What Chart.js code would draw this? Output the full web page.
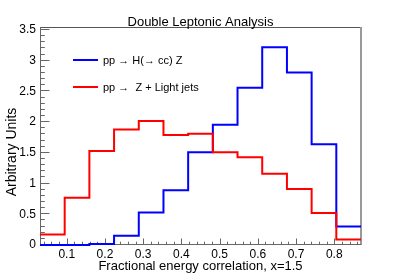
<!DOCTYPE html>
<html>
<head>
<meta charset="utf-8">
<script src="https://cdn.jsdelivr.net/npm/chart.js@4"></script>
<style>
    html, body { margin: 0; padding: 0; background: #fff; }
    #wrap { width: 401px; height: 273px; }
</style>
</head>
<body>
<div id="wrap"><canvas id="chart1"></canvas></div>
<script>
const binEdges = [0.030, 0.0946, 0.1592, 0.2238, 0.2885, 0.3531, 0.4177, 0.4823, 0.5469, 0.6115, 0.6762, 0.7408, 0.8054, 0.870]
const higgsValues = [0, 0, 0.015, 0.15, 0.53, 0.89, 1.51, 1.96, 2.56, 3.22, 2.81, 1.64, 0.30]
const lightValues = [0.17, 0.77, 1.53, 1.88, 2.02, 1.79, 1.81, 1.51, 1.43, 1.16, 0.91, 0.52, 0.09]
const seriesLabels = ['pp \u2192 H(\u2192 cc) Z', 'pp \u2192  Z + Light jets']
const xTicks = [0.1, 0.2, 0.3, 0.4, 0.5, 0.6, 0.7, 0.8]
const yTicks = [0, 0.5, 1, 1.5, 2, 2.5, 3, 3.5]

const FONT = '"Liberation Sans", Arial, sans-serif'
const AXIS = '#666'


// histogram outline: one point per left bin edge, plus the last right edge
function histPoints(values) {
    let pts = values.map((v, i) => ({ x: binEdges[i], y: v }))
    pts.push({ x: binEdges[binEdges.length - 1], y: values[values.length - 1] })
    return pts
}


// ROOT-like frame: inward major/minor ticks, grey frame
const framePlugin = {
    id: 'frame',
    beforeDatasetsDraw(chart) {
        const { ctx, chartArea: a, scales: { x, y } } = chart
        ctx.save()
        ctx.lineWidth = 1
        ctx.strokeStyle = '#555'
        ctx.beginPath()
        ctx.moveTo(a.left, a.top + 0.5)
        ctx.lineTo(a.right, a.top + 0.5)
        ctx.stroke()

        ctx.strokeStyle = '#999'
        ctx.lineWidth = 2
        ctx.beginPath()
        ctx.moveTo(a.right, a.top)
        ctx.lineTo(a.right, a.bottom)
        ctx.stroke()

        ctx.strokeStyle = AXIS
        ctx.lineWidth = 1
        ctx.beginPath()
        ctx.moveTo(a.left + 0.5, a.top)
        ctx.lineTo(a.left + 0.5, a.bottom)
        ctx.moveTo(a.left, a.bottom - 0.5)
        ctx.lineTo(a.right, a.bottom - 0.5)

        // y ticks: major every 0.5, minor every 0.1
        const yStep = (yTicks[1] - yTicks[0]) / 5
        for (let i = 0; i <= Math.round(yTicks[yTicks.length - 1] / yStep); i++) {
            const py = Math.round(y.getPixelForValue(i * yStep)) - 0.5
            const len = i % 5 === 0 ? 9.5 : 4.8
            ctx.moveTo(a.left, py)
            ctx.lineTo(a.left + len, py)
        }

        // x ticks: major every 0.1, minor every 0.02
        const xStep = (xTicks[1] - xTicks[0]) / 5
        for (let i = 1; i * xStep <= x.max + 1e-9; i++) {
            const v = i * xStep
            if (v < x.min) continue
            const px = Math.round(x.getPixelForValue(v)) + 0.5
            const len = i % 5 === 0 ? 6.5 : 3.3
            ctx.moveTo(px, a.bottom)
            ctx.lineTo(px, a.bottom - len)
        }
        ctx.stroke()
        ctx.restore()
    },
    afterDraw(chart) {
        const { ctx, chartArea: a } = chart
        ctx.save()
        ctx.fillStyle = '#000'
        ctx.font = '13px ' + FONT
        ctx.textAlign = 'center'
        ctx.textBaseline = 'alphabetic'
        ctx.fillText('Double Leptonic Analysis', 200.5, 26)
        ctx.fillText('Fractional energy correlation, x=1.5', (a.left + a.right) / 2, 270)

        ctx.font = '14px ' + FONT
        ctx.translate(16, 152)
        ctx.rotate(-Math.PI / 2)
        ctx.fillText('Arbitrary Units', 0, 0)
        ctx.restore()

        // legend inside the frame
        ctx.save()
        ctx.font = '11px ' + FONT
        ctx.textAlign = 'left'
        ctx.textBaseline = 'middle'
        const rows = [60, 87]
        chart.data.datasets.forEach((ds, i) => {
            ctx.strokeStyle = ds.borderColor
            ctx.lineWidth = 2
            ctx.beginPath()
            ctx.moveTo(73, rows[i])
            ctx.lineTo(98, rows[i])
            ctx.stroke()
            ctx.fillStyle = '#000'
            ctx.fillText(ds.label, 103, rows[i] + 0.5)
        })
        ctx.restore()
    }
}


function drawChart() {

    let data = {
        datasets: [
            {
                label: seriesLabels[0],
                data: histPoints(higgsValues),
                borderColor: '#0000ff',
                order: 2
            },
            {
                label: seriesLabels[1],
                data: histPoints(lightValues),
                borderColor: '#ff0000',
                order: 1
            }
        ]
    }

    data.datasets.forEach(ds => {
        ds.stepped = 'before'
        ds.borderWidth = 2
        ds.pointRadius = 0
        ds.fill = false
        ds.clip = 3
        ds.borderJoinStyle = 'miter'
    })

    const options = {
        responsive: false,
        animation: false,
        layout: { padding: { top: 27, right: 40, left: 0, bottom: 0 } },
        plugins: {
            legend: { display: false },
            tooltip: { enabled: false }
        },
        scales: {
            x: {
                type: 'linear',
                min: binEdges[0],
                max: binEdges[binEdges.length - 1],
                grid: { display: false, drawTicks: false, tickLength: 0 },
                border: { display: false },
                afterBuildTicks: s => { s.ticks = xTicks.map(v => ({ value: v })) },
                afterFit: s => { s.height = 28 },
                ticks: {
                    autoSkip: false,
                    maxRotation: 0,
                    padding: 2,
                    color: '#000',
                    font: { family: FONT, size: 12 },
                    callback: v => String(v)
                }
            },
            y: {
                type: 'linear',
                min: 0,
                max: 3.55,
                grid: { display: false, drawTicks: false, tickLength: 0 },
                border: { display: false },
                afterBuildTicks: s => { s.ticks = yTicks.map(v => ({ value: v })) },
                afterFit: s => { s.width = 40 },
                ticks: {
                    autoSkip: false,
                    padding: 4,
                    color: '#000',
                    font: { family: FONT, size: 12 },
                    callback: v => String(v)
                }
            }
        }
    }

    const canvas = document.getElementById('chart1')
    canvas.width = 401
    canvas.height = 273
    new Chart(canvas, { type: 'line', data, options, plugins: [framePlugin] })
}

drawChart()
</script>
</body>
</html>
